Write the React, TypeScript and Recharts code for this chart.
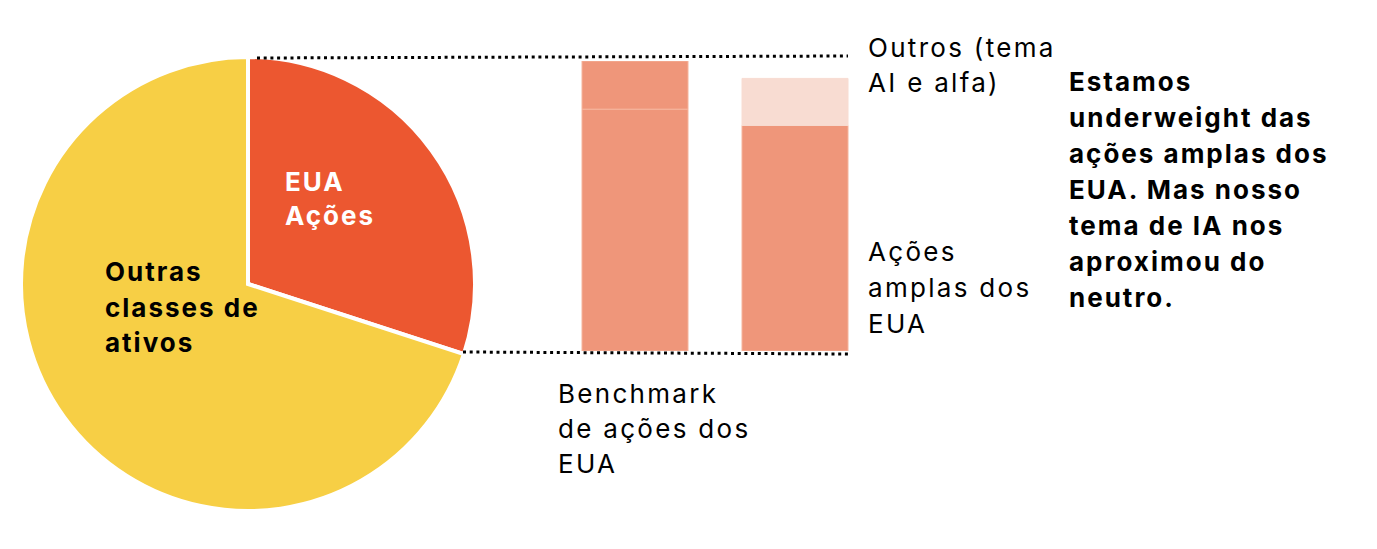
import { PieChart, Pie, Cell, BarChart, Bar, XAxis, YAxis } from 'recharts';

// pie: share of US equities in the overall portfolio
const pieNames = ['EUA Ações', 'Outras classes de ativos'];
const pieValues = [30, 70];
const pieColors = ['#EC5730', '#F7CF45'];

// bars: benchmark vs. our positioning (% of the US equity slice)
const barCategories = ['Benchmark', 'Portfolio'];
const broadValues = [83.4, 77.8];
const otherValues = [16.6, 16.2];
const otherColors = ['#EF967A', '#F8DCD2'];

const FONT = 'Inter, "Noto Sans", sans-serif';

const pieData = pieNames.map((name, i) => ({ name, value: pieValues[i] }));
const barData = barCategories.map((name, i) => ({
  name,
  broad: broadValues[i],
  other: otherValues[i],
}));

function Lines({ x, y, lines, bold, fill = '#000', gap = 35 }: { x: number; y: number; lines: string[]; bold?: boolean; fill?: string; gap?: number }) {
  return (
    <text
      x={x}
      y={y}
      fontFamily={FONT}
      fontSize={26}
      fontWeight={bold ? 700 : 400}
      letterSpacing={bold ? 2.0 : 2.3}
      fill={fill}
    >
      {lines.map((l, i) => (
        <tspan key={i} x={x} dy={i === 0 ? 0 : gap}>
          {l}
        </tspan>
      ))}
    </text>
  );
}

export default function App() {
  return (
    <div style={{ position: 'absolute', left: 0, top: 0, width: 1377, height: 549, background: '#fff', overflow: 'hidden' }}>
      <div style={{ position: 'absolute', left: 0, top: 0 }}>
        <PieChart width={500} height={549} margin={{ top: 0, right: 0, bottom: 0, left: 0 }}>
          <Pie
            data={pieData}
            dataKey="value"
            cx={248}
            cy={284}
            outerRadius={227}
            startAngle={90}
            endAngle={-270}
            stroke="#fff"
            strokeWidth={4}
            isAnimationActive={false}
          >
            {pieData.map((d, i) => (
              <Cell key={d.name} fill={pieColors[i]} />
            ))}
          </Pie>
        </PieChart>
      </div>
      <div style={{ position: 'absolute', left: 555, top: 61 }}>
        <BarChart width={320} height={290} data={barData} margin={{ top: 0, right: 0, bottom: 0, left: 0 }} barSize={106}>
          <XAxis dataKey="name" hide />
          <YAxis hide domain={[0, 100]} />
          <Bar dataKey="broad" stackId="a" fill="#EF967A" stroke="#F5B49C" strokeWidth={1} isAnimationActive={false} />
          <Bar dataKey="other" stackId="a" stroke="#F5B49C" strokeWidth={1} isAnimationActive={false}>
            {barData.map((d, i) => (
              <Cell key={d.name} fill={otherColors[i]} stroke={i === 0 ? '#F5B49C' : '#F8DCD2'} />
            ))}
          </Bar>
        </BarChart>
      </div>
      <svg width={1377} height={549} style={{ position: 'absolute', left: 0, top: 0, pointerEvents: 'none' }}>
        <line x1={257} y1={58} x2={848} y2={56} stroke="#000" strokeWidth={3} strokeDasharray="3 3.7" />
        <line x1={463} y1={352} x2={848} y2={354} stroke="#000" strokeWidth={3} strokeDasharray="3 3.7" />
        <Lines x={285} y={191} lines={['EUA', 'Ações']} bold fill="#fff" gap={34} />
        <Lines x={105} y={281} lines={['Outras', 'classes de', 'ativos']} bold gap={35.5} />
        <Lines x={558} y={403} lines={['Benchmark', 'de ações dos', 'EUA']} />
        <Lines x={868} y={57} lines={['Outros (tema', 'AI e alfa)']} />
        <Lines x={868} y={261} lines={['Ações', 'amplas dos', 'EUA']} gap={36} />
        <Lines
          x={1069}
          y={91}
          lines={['Estamos', 'underweight das', 'ações amplas dos', 'EUA. Mas nosso', 'tema de IA nos', 'aproximou do', 'neutro.']}
          bold
          gap={36}
        />
      </svg>
    </div>
  );
}
